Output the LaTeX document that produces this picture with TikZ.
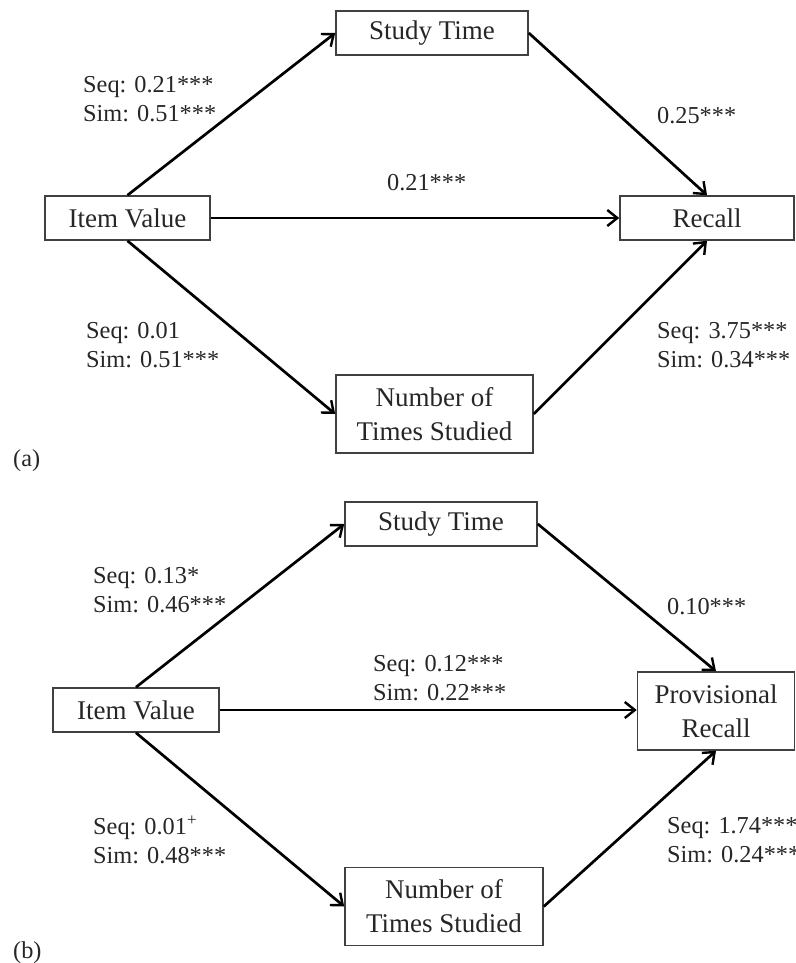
\documentclass[tikz,border=0pt]{standalone}
\usepackage{fontspec}
\setmainfont{Liberation Serif}
\usetikzlibrary{arrows.meta}
\begin{document}
\begin{tikzpicture}[x=1pt, y=-1pt,
    box/.style={draw=black!75, line width=1.6pt, inner sep=0pt, align=center,
      font=\fontsize{27}{34}\selectfont, text=black!85},
    lbl/.style={anchor=north west, inner sep=0pt, align=left,
      font=\fontsize{24.3}{29}\selectfont, text=black!85},
    arr/.style={line width=2.7pt, -{Straight Barb[length=10pt,width=16pt,line width=2.4pt]}}]
  \useasboundingbox (0,0) rectangle (795,963);

  % Panel (a)
  \node [box, minimum width=192, minimum height=44] (st) at (432,33) {Study Time};
  \node [box, minimum width=165, minimum height=44] (iv) at (127.5,218) {Item Value};
  \node [box, minimum width=174, minimum height=44] (rc) at (707,218) {Recall};
  \node [box, minimum width=197, minimum height=78] (nt) at (434.5,414) {Number of\\Times Studied};

  \draw [arr] (iv.north) -- (st.west);
  \draw [arr] (iv.south) -- (nt.west);
  \draw [arr] (iv.east) -- (rc.west);
  \draw [arr] (st.east) -- (rc.north);
  \draw [arr] (nt.east) -- (rc.south);

  \node [lbl] (a1) at (83,76) {Seq: 0.21***\\Sim: 0.51***};
  \node [lbl] (a2) at (387,174) {0.21***};
  \node [lbl] (a3) at (657,107) {0.25***};
  \node [lbl] (a4) at (86,322) {Seq: 0.01\\Sim: 0.51***};
  \node [lbl] (a5) at (657,322) {Seq: 3.75***\\Sim: 0.34***};
  \node [lbl] (pa) at (13,449) {(a)};

  % Panel (b)
  \node [box, minimum width=192, minimum height=44] (st2) at (441,524) {Study Time};
  \node [box, minimum width=166, minimum height=44] (iv2) at (136,710) {Item Value};
  \node [box, minimum width=157, minimum height=78] (pr) at (716,711) {Provisional\\Recall};
  \node [box, minimum width=198, minimum height=78] (nt2) at (444,906.5) {Number of\\Times Studied};

  \draw [arr] (iv2.north) -- (st2.west);
  \draw [arr] (iv2.south) -- (nt2.west);
  \draw [arr] (iv2.east) -- (pr.west |- iv2.east);
  \draw [arr] (st2.east) -- (pr.north);
  \draw [arr] (nt2.east) -- (pr.south);

  \node [lbl] (b1) at (93,567) {Seq: 0.13*\\Sim: 0.46***};
  \node [lbl] (b2) at (373,655) {Seq: 0.12***\\Sim: 0.22***};
  \node [lbl] (b3) at (667,598) {0.10***};
  \node [lbl] (b4) at (93,816) {Seq: 0.01\textsuperscript{+}\\Sim: 0.48***};
  \node [lbl] (b5) at (667,817) {Seq: 1.74***\\Sim: 0.24***};
  \node [lbl] (pb) at (13,941) {(b)};
\end{tikzpicture}
\end{document}
